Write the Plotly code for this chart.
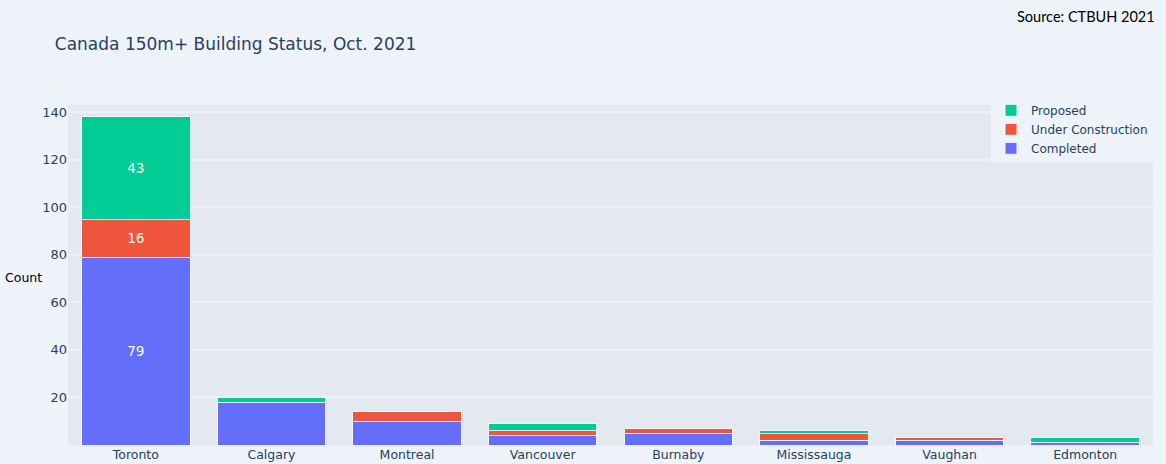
import plotly.graph_objects as go

cities = ["Toronto", "Calgary", "Montreal", "Vancouver", "Burnaby",
          "Mississauga", "Vaughan", "Edmonton"]
completed = [79, 18, 10, 4, 5, 2, 2, 1]
under_construction = [16, 0, 4, 2, 2, 3, 1, 0]
proposed = [43, 2, 0, 3, 0, 1, 0, 2]
labelled_city = "Toronto"
y_ticks = [20, 40, 60, 80, 100, 120, 140]

PAPER = "#EEF2F9"
PLOT = "#E4E8F0"
FONT = "DejaVu Sans, Verdana, sans-serif"


def labels(vals):
    return [str(v) if c == labelled_city else "" for c, v in zip(cities, vals)]


fig = go.Figure()
series = [
    ("Completed", completed, "#636EFA"),
    ("Under Construction", under_construction, "#EF553B"),
    ("Proposed", proposed, "#00CC96"),
]
for name, vals, color in series:
    fig.add_trace(go.Bar(
        x=cities, y=vals, name=name,
        marker=dict(color=color, line=dict(color="#F4F7FC", width=1)),
        text=labels(vals), textposition="inside", insidetextanchor="middle",
        textfont=dict(color="white", size=13.5, family=FONT),
    ))

fig.update_layout(
    barmode="stack",
    width=1166, height=464,
    paper_bgcolor=PAPER, plot_bgcolor=PLOT,
    font=dict(family=FONT, size=12, color="#2a3f5f"),
    margin=dict(l=68, r=13, t=105, b=19, autoexpand=False),
    title=dict(text="Canada 150m+ Building Status, Oct. 2021",
               x=0.047, xanchor="left", y=0.905, yanchor="middle",
               font=dict(size=17, family=FONT, color="#2a3f5f")),
    legend=dict(x=1, xanchor="right", y=1.027, yanchor="top",
                bgcolor=PAPER, traceorder="reversed",
                font=dict(size=12, family=FONT, color="#2a3f5f")),
    bargap=0.2,
    showlegend=True,
)
fig.update_xaxes(showgrid=False, automargin=False, ticks="", showline=False,
                 zeroline=False, tickfont=dict(size=12.5))
fig.update_yaxes(range=[0, 143], tickvals=y_ticks, showgrid=True,
                 gridcolor="#ECF0F7", gridwidth=1.5, zeroline=False,
                 automargin=False, ticks="", tickfont=dict(size=13))

fig.add_annotation(text="Count", xref="paper", yref="paper",
                   x=-0.041, y=0.494, xanchor="center", yanchor="middle",
                   showarrow=False, font=dict(size=12.5, family=FONT, color="black"))
fig.add_annotation(text="Source: CTBUH 2021", xref="paper", yref="paper",
                   x=1.004, y=1.259, xanchor="right", yanchor="middle",
                   showarrow=False, font=dict(size=14.5, family="Lato", color="black"))

fig.write_html("out.html",
               config={"displayModeBar": False},
               post_script="document.body.style.margin='0';"
                           "document.body.style.background='" + PAPER + "';")
